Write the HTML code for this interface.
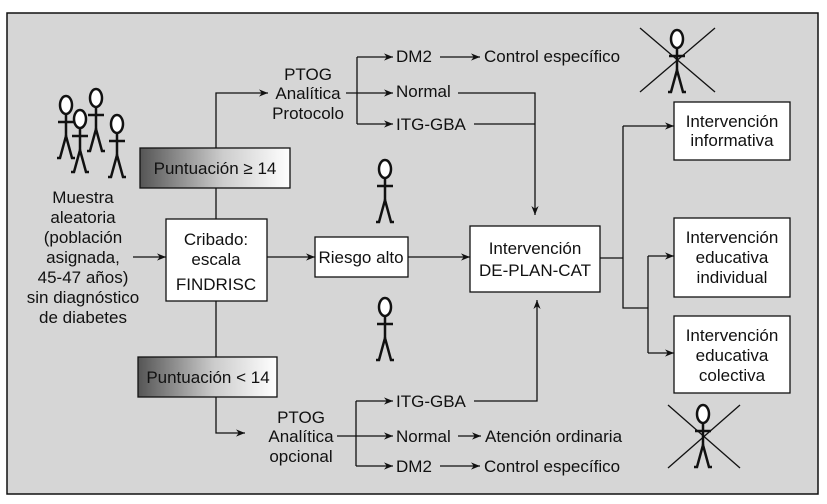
<!DOCTYPE html>
<html><head><meta charset="utf-8"><style>
html,body{margin:0;padding:0;background:#fff}
svg{display:block}
text{font-family:"Liberation Sans",sans-serif;font-size:17px;fill:#111}
</style></head><body>
<svg width="827" height="504" viewBox="0 0 827 504" xmlns="http://www.w3.org/2000/svg">
<defs>
<linearGradient id="g" x1="0" x2="1" y1="0" y2="0"><stop offset="0" stop-color="#555"/><stop offset="0.55" stop-color="#ccc"/><stop offset="1" stop-color="#fff"/></linearGradient>
<marker id="a" viewBox="0 0 10 10" refX="10" refY="5" markerWidth="9" markerHeight="9" markerUnits="userSpaceOnUse" orient="auto"><path d="M0,1 L10,5 L0,9 L3,5z" fill="#111"/></marker>
<g id="p" fill="none" stroke="#111" stroke-width="2.5"><ellipse cx="0" cy="9" rx="6" ry="9" fill="#fff"/><line x1="0" y1="18" x2="0" y2="40"/><line x1="-8" y1="26" x2="8" y2="26"/><path d="M-9,62 L-6,62 L0,40 L6,62 L9,62"/></g>
</defs>
<rect x="7" y="13" width="811" height="481" fill="#d6d6d6" stroke="#111" stroke-width="1.5"/>
<g stroke="#111" stroke-width="1.3" fill="none">
<path d="M133,257 H166" marker-end="url(#a)"/>
<path d="M267,257 H315" marker-end="url(#a)"/>
<path d="M408,257 H470" marker-end="url(#a)"/>
<path d="M216,148 V93 H268" marker-end="url(#a)"/>
<path d="M216,188 V219 M216,301 V357"/>
<path d="M216,397 V433 H245" marker-end="url(#a)"/>
<path d="M346,93 H393" marker-end="url(#a)"/>
<path d="M357,57 V124"/>
<path d="M357,57 H393" marker-end="url(#a)"/>
<path d="M357,124 H393" marker-end="url(#a)"/>
<path d="M440,57 H480" marker-end="url(#a)"/>
<path d="M458,93 H535 V215" marker-end="url(#a)"/>
<path d="M474,124 H535"/>
<path d="M474,401 H537 V300" marker-end="url(#a)"/>
<path d="M337,436 H393" marker-end="url(#a)"/>
<path d="M356,401 V466"/>
<path d="M356,401 H393" marker-end="url(#a)"/>
<path d="M356,466 H393" marker-end="url(#a)"/>
<path d="M458,436 H481" marker-end="url(#a)"/>
<path d="M440,466 H480" marker-end="url(#a)"/>
<path d="M600,258 H623 M623,126 V308 H648"/>
<path d="M623,126 H674" marker-end="url(#a)"/>
<path d="M648,256 V353"/>
<path d="M648,256 H674" marker-end="url(#a)"/>
<path d="M648,353 H674" marker-end="url(#a)"/>
</g>
<g stroke="#111" stroke-width="1.3">
<rect x="140" y="148" width="150" height="40" fill="url(#g)"/>
<rect x="138" y="357" width="139" height="40" fill="url(#g)"/>
<rect x="166" y="219" width="101" height="82" fill="#fff"/>
<rect x="315" y="237" width="93" height="40" fill="#fff"/>
<rect x="470" y="226" width="130" height="66" fill="#fff"/>
<rect x="674" y="102" width="116" height="58" fill="#fff"/>
<rect x="674" y="218" width="116" height="79" fill="#fff"/>
<rect x="674" y="316" width="116" height="77" fill="#fff"/>
</g>
<use href="#p" x="66" y="96"/>
<use href="#p" x="96" y="89"/>
<use href="#p" x="80" y="110"/>
<use href="#p" x="117" y="115"/>
<use href="#p" x="385" y="160"/>
<use href="#p" x="385" y="298"/>
<use href="#p" x="677" y="30"/>
<use href="#p" x="703" y="405"/>
<g stroke="#111" stroke-width="1.3"><line x1="640" y1="28" x2="715" y2="92"/><line x1="715" y1="28" x2="640" y2="92"/><line x1="668" y1="405" x2="740" y2="468"/><line x1="740" y1="405" x2="668" y2="468"/></g>
<g text-anchor="middle">
<text x="83" y="203">Muestra</text><text x="83" y="223">aleatoria</text><text x="83" y="243">(población</text><text x="83" y="263">asignada,</text><text x="83" y="283">45-47 años)</text><text x="83" y="303">sin diagnóstico</text><text x="83" y="323">de diabetes</text>
<text x="215" y="174">Puntuación ≥ 14</text>
<text x="208" y="383">Puntuación &lt; 14</text>
<text x="216" y="245">Cribado:</text><text x="216" y="265">escala</text><text x="216" y="290">FINDRISC</text>
<text x="361" y="263">Riesgo alto</text>
<text x="535" y="254">Intervención</text><text x="535" y="276">DE-PLAN-CAT</text>
<text x="732" y="127">Intervención</text><text x="732" y="146">informativa</text>
<text x="732" y="243">Intervención</text><text x="732" y="263">educativa</text><text x="732" y="283">individual</text>
<text x="732" y="341">Intervención</text><text x="732" y="361">educativa</text><text x="732" y="381">colectiva</text>
<text x="308" y="80">PTOG</text><text x="308" y="99">Analítica</text><text x="308" y="119">Protocolo</text>
<text x="301" y="423">PTOG</text><text x="301" y="442">Analítica</text><text x="301" y="462">opcional</text>
</g>
<text x="396" y="62">DM2</text><text x="484" y="62">Control específico</text>
<text x="396" y="97">Normal</text>
<text x="396" y="130">ITG-GBA</text>
<text x="396" y="407">ITG-GBA</text>
<text x="396" y="442">Normal</text><text x="485" y="442">Atención ordinaria</text>
<text x="396" y="472">DM2</text><text x="484" y="472">Control específico</text>
</svg>
</body></html>
